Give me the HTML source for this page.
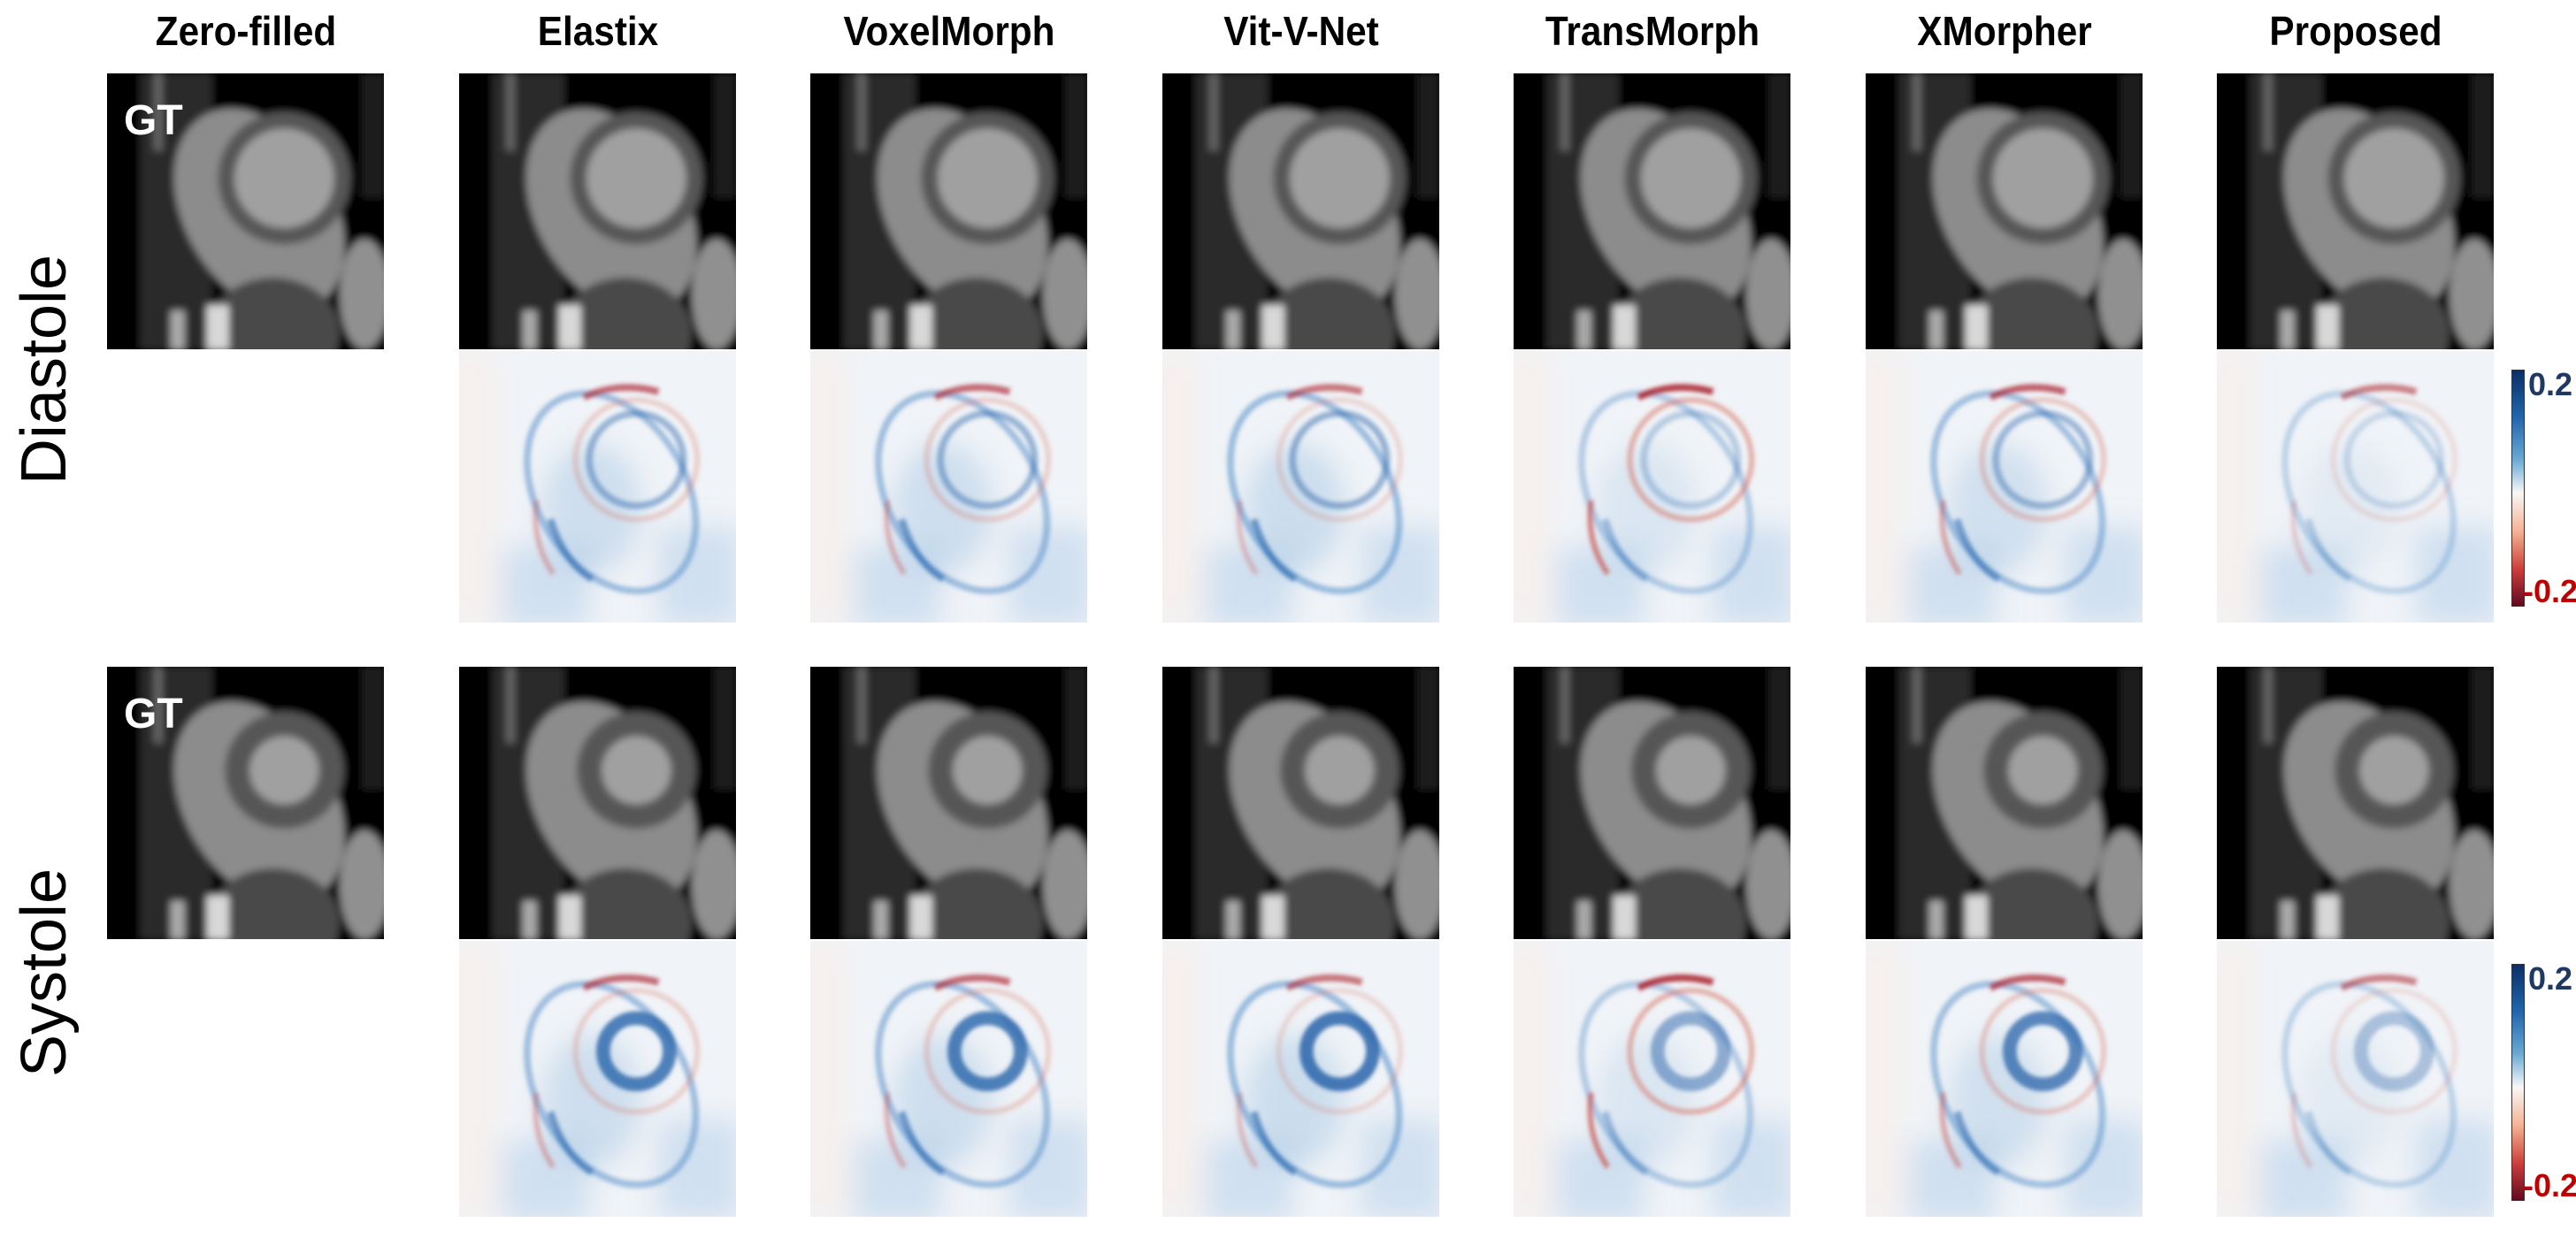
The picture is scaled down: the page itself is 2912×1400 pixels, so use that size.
<!DOCTYPE html>
<html><head><meta charset="utf-8">
<style>
html,body{margin:0;padding:0;background:#fff;}
#fig{position:relative;width:2912px;height:1400px;overflow:hidden;background:#fff;font-family:"Liberation Sans",sans-serif;}
.title{position:absolute;top:8px;font-weight:bold;font-size:46px;color:#000;text-align:center;width:400px;transform:scaleX(0.92);}
.rowlab{position:absolute;font-size:72px;color:#000;transform:translate(-50%,-50%) rotate(-90deg);white-space:nowrap;}
.tile{position:absolute;display:block;}
.gt{position:absolute;color:#fff;font-weight:bold;font-size:48px;}
.cb{position:absolute;left:2839px;width:13px;border:1px solid #333;background:linear-gradient(#0b2f66,#2166ac 20%,#6aaad4 38%,#f7f7f7 52%,#f5b595 68%,#c93c3a 85%,#5f0b1d);}
.cbl{position:absolute;left:2858px;font-weight:bold;font-size:36px;}
</style></head><body>
<div id="fig">
<div class="rowlab" style="left:50px;top:418px">Diastole</div>
<div class="rowlab" style="left:50px;top:1100px">Systole</div>
<div class="cb" style="top:418px;height:266px"></div>
<div class="cbl" style="top:414px;color:#1f3864">0.2</div>
<div class="cbl" style="top:648px;color:#c00000;left:2852px">-0.2</div>
<div class="cb" style="top:1090px;height:266px"></div>
<div class="cbl" style="top:1086px;color:#1f3864">0.2</div>
<div class="cbl" style="top:1320px;color:#c00000;left:2852px">-0.2</div>
</div>
<script>
const methods=["Zero-filled","Elastix","VoxelMorph","Vit-V-Net","TransMorph","XMorpher","Proposed"];
const blueStrength=[0,0.8,0.8,0.85,0.5,0.75,0.35];
const redStrength=[0,0.5,0.5,0.4,0.9,0.6,0.3];
const fig=document.getElementById('fig');
const X0=121,PITCH=397.5,W=313;
const rows=[{img:[83,395],err:[397,704],sys:false},{img:[754,1062],err:[1064,1376],sys:true}];
const NS='http://www.w3.org/2000/svg';
function mk(tag,attrs,parent){const e=document.createElementNS(NS,tag);for(const k in attrs)e.setAttribute(k,attrs[k]);parent.appendChild(e);return e;}
methods.forEach((m,i)=>{
  const x=Math.round(X0+PITCH*i);
  const t=document.createElement('div');t.className='title';
  
  
  t.style.left=(x+W/2-200)+'px';t.textContent=m;fig.appendChild(t);
  rows.forEach((r,ri)=>{
    const s=document.createElementNS(NS,'svg');
    s.setAttribute('class','tile');
    
    
    s.setAttribute('viewBox','0 0 100 100');s.setAttribute('preserveAspectRatio','none');
    s.style.left=x+'px';s.style.top=r.img[0]+'px';s.style.width=W+'px';s.style.height=(r.img[1]-r.img[0])+'px';
    const d=mk('defs',{},s);const f=mk('filter',{id:'b'+i+ri,x:'-20%',y:'-20%',width:'140%',height:'140%'},d);mk('feGaussianBlur',{stdDeviation:'1.4'},f);
    const g=mk('g',{filter:'url(#b'+i+ri+')'},s);
    mk('rect',{x:-5,y:-5,width:110,height:110,fill:'#060606'},g);
    mk('rect',{x:12,y:0,width:26,height:100,fill:'#2a2a2a'},g);
    mk('rect',{x:17,y:0,width:3,height:28,fill:'#666'},g);
    mk('ellipse',{cx:55,cy:50,rx:27,ry:40,fill:'#8c8c8c',transform:'rotate(-30 55 50)'},g);
    mk('ellipse',{cx:60,cy:94,rx:24,ry:20,fill:'#4a4a4a'},g);
    mk('ellipse',{cx:93,cy:80,rx:9,ry:20,fill:'#909090'},g);
    const lr=r.sys?13:17;
    mk('circle',{cx:64,cy:38,r:lr+4,fill:'#a0a0a0',stroke:'#575757','stroke-width':r.sys?9:6},g);
    mk('rect',{x:36,y:84,width:8,height:16,fill:'#d8d8d8'},g);
    mk('rect',{x:23,y:86,width:5,height:14,fill:'#aaa'},g);
    mk('rect',{x:92,y:0,width:8,height:45,fill:'#1a1a1a'},g);
    s.style.zIndex=1;fig.appendChild(s);
    if(i===0){const l=document.createElement('div');l.className='gt';l.textContent='GT';
      
      
      l.style.left='140px';l.style.top=(r.img[0]+26)+'px';l.style.zIndex=2;fig.appendChild(l);return;}
    const e=document.createElementNS(NS,'svg');
    e.setAttribute('class','tile');
    
    
    e.setAttribute('viewBox','0 0 100 100');e.setAttribute('preserveAspectRatio','none');
    e.style.left=x+'px';e.style.top=r.err[0]+'px';e.style.width=W+'px';e.style.height=(r.err[1]-r.err[0])+'px';
    const d2=mk('defs',{},e);const f2=mk('filter',{id:'e'+i+ri,x:'-20%',y:'-20%',width:'140%',height:'140%'},d2);mk('feGaussianBlur',{stdDeviation:'0.8'},f2);
    const f3=mk('filter',{id:'s'+i+ri,x:'-20%',y:'-20%',width:'140%',height:'140%'},d2);mk('feGaussianBlur',{stdDeviation:'5'},f3);
    const b=blueStrength[i],rd=redStrength[i];
    mk('rect',{x:0,y:0,width:100,height:100,fill:'#f0f3f7'},e);
    const gs=mk('g',{filter:'url(#s'+i+ri+')'},e);
    mk('rect',{x:-5,y:0,width:18,height:100,fill:'#f6f0ee'},gs);
    mk('rect',{x:15,y:72,width:32,height:30,fill:'rgba(150,190,225,0.35)'},gs);
    mk('rect',{x:72,y:65,width:30,height:36,fill:'rgba(150,190,225,0.35)'},gs);
    mk('ellipse',{cx:48,cy:58,rx:18,ry:24,fill:'rgba(120,170,215,'+(0.35*b)+')'},gs);
    const g2=mk('g',{filter:'url(#e'+i+ri+')',fill:'none'},e);
    mk('ellipse',{cx:55,cy:52,rx:27,ry:39,stroke:'rgba(80,140,200,'+(0.45*b+0.15)+')','stroke-width':2.5,transform:'rotate(-30 55 52)'},g2);
    mk('circle',{cx:64,cy:40,r:22,stroke:'rgba(214,110,90,'+(0.55*rd)+')','stroke-width':2},g2);
    mk('circle',{cx:64,cy:40,r:r.sys?12:17,stroke:'rgba(40,100,170,'+(r.sys?b:0.55*b)+')','stroke-width':r.sys?5:2.5},g2);
    mk('path',{d:'M45 17 Q58 11 72 15',stroke:'rgba(170,30,40,'+(0.4+0.5*rd)+')','stroke-width':2.5},g2);
    mk('path',{d:'M28 55 Q26 70 34 82',stroke:'rgba(200,70,60,'+(0.7*rd)+')','stroke-width':2},g2);
    mk('path',{d:'M33 62 Q38 78 48 84',stroke:'rgba(50,110,180,'+(0.8*b)+')','stroke-width':2.5},g2);
    fig.appendChild(e);
  });
});
</script>
</body></html>
